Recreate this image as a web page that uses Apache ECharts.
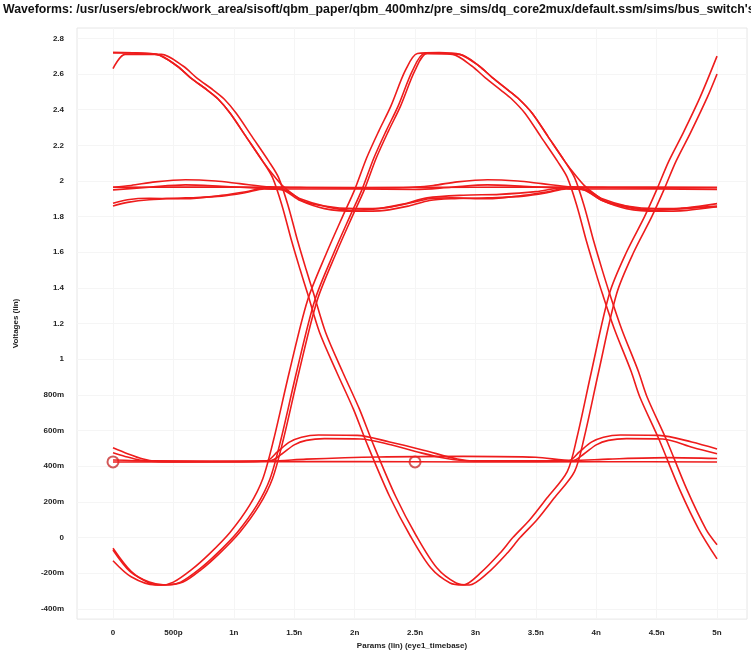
<!DOCTYPE html>
<html>
<head>
<meta charset="utf-8">
<script src="https://cdn.jsdelivr.net/npm/echarts@6/dist/echarts.min.js"></script>
<style>html,body{margin:0;padding:0;background:#fff}#c{width:751px;height:655px}</style>
</head>
<body>
<div id="c"></div>
<script>
// ---------- tick labels ----------
const xTickValues = [0, 0.5, 1, 1.5, 2, 2.5, 3, 3.5, 4, 4.5, 5];
const xTickLabels = ["0", "500p", "1n", "1.5n", "2n", "2.5n", "3n", "3.5n", "4n", "4.5n", "5n"];
const yTickValues = [2.8, 2.6, 2.4, 2.2, 2, 1.8, 1.6, 1.4, 1.2, 1, 0.8, 0.6, 0.4, 0.2, 0, -0.2, -0.4];
const yTickLabels = ["2.8", "2.6", "2.4", "2.2", "2", "1.8", "1.6", "1.4", "1.2", "1", "800m", "600m", "400m", "200m", "0", "-200m", "-400m"];

// ---------- full-swing traces (time in ns, voltage in V) ----------
const tA1 = [0, 0.36, 0.53, 0.64, 0.78, 0.87, 0.97, 1.1, 1.24, 1.32, 1.40, 1.48, 1.55, 1.61, 1.71, 1.85, 1.99, 2.1, 2.29, 2.46, 2.63, 2.79, 2.9, 3.04, 3.2, 3.31, 3.45, 3.59, 3.76, 3.84, 3.96, 4.11, 4.25, 4.4, 4.5, 4.6, 4.72, 4.86, 5.0];
const vA1 = [2.72, 2.71, 2.645, 2.58, 2.51, 2.46, 2.38, 2.25, 2.11, 2.02, 1.86, 1.66, 1.50, 1.37, 1.15, 0.93, 0.72, 0.53, 0.23, 0.01, -0.17, -0.255, -0.266, -0.2, -0.09, 0.0, 0.1, 0.22, 0.37, 0.56, 0.93, 1.37, 1.60, 1.80, 1.95, 2.11, 2.27, 2.47, 2.70];
const tA2 = [0, 0.1, 0.4, 0.58, 0.69, 0.83, 0.92, 1.02, 1.15, 1.29, 1.37, 1.45, 1.53, 1.6, 1.66, 1.76, 1.9, 2.04, 2.15, 2.34, 2.51, 2.68, 2.84, 2.95, 3.1, 3.26, 3.37, 3.51, 3.65, 3.82, 3.9, 4.02, 4.17, 4.31, 4.46, 4.56, 4.66, 4.78, 4.92, 5.0];
const vA2 = [2.63, 2.71, 2.71, 2.645, 2.58, 2.51, 2.46, 2.38, 2.25, 2.11, 2.02, 1.86, 1.66, 1.50, 1.37, 1.15, 0.93, 0.72, 0.53, 0.23, 0.01, -0.17, -0.255, -0.266, -0.2, -0.09, 0.0, 0.1, 0.22, 0.37, 0.56, 0.93, 1.37, 1.60, 1.80, 1.95, 2.11, 2.27, 2.47, 2.60];
const tA3 = [0, 0.36, 0.53, 0.64, 0.78, 0.87, 0.97, 1.1, 1.24, 1.33, 1.4, 1.48, 1.58, 1.72, 1.96, 2.2, 2.4, 2.6, 2.9, 3.2, 3.5, 3.75, 3.9, 4.05, 4.2, 4.45, 4.7, 5.0];
const vA3 = [2.72, 2.71, 2.645, 2.58, 2.51, 2.46, 2.38, 2.25, 2.11, 2.03, 1.975, 1.93, 1.885, 1.862, 1.836, 1.845, 1.87, 1.905, 1.92, 1.925, 1.94, 1.965, 1.95, 1.89, 1.86, 1.835, 1.845, 1.86];
const tB1 = [0, 0.15, 0.3, 0.4, 0.5, 0.65, 0.8, 0.97, 1.13, 1.24, 1.33, 1.46, 1.61, 1.77, 1.9, 2.0, 2.1, 2.2, 2.3, 2.42, 2.52, 2.7, 2.87, 3.03, 3.14, 3.27, 3.36, 3.47, 3.6, 3.74, 3.82, 3.90, 3.98, 4.05, 4.11, 4.21, 4.35, 4.42, 4.58, 4.75, 4.91, 5.0];
const vB1 = [-0.06, -0.19, -0.255, -0.266, -0.25, -0.18, -0.09, 0.03, 0.18, 0.33, 0.55, 0.93, 1.33, 1.6, 1.80, 1.95, 2.13, 2.28, 2.42, 2.62, 2.715, 2.72, 2.71, 2.645, 2.58, 2.51, 2.46, 2.38, 2.25, 2.11, 2.02, 1.86, 1.66, 1.50, 1.37, 1.17, 0.93, 0.79, 0.55, 0.27, 0.045, -0.04];
const tB2 = [0, 0.15, 0.35, 0.46, 0.56, 0.71, 0.86, 1.03, 1.19, 1.3, 1.39, 1.52, 1.67, 1.83, 1.96, 2.06, 2.16, 2.26, 2.36, 2.48, 2.58, 2.81, 2.97, 3.08, 3.21, 3.3, 3.41, 3.54, 3.68, 3.76, 3.84, 3.92, 3.99, 4.05, 4.15, 4.29, 4.36, 4.52, 4.69, 4.85, 5.0];
const vB2 = [-0.13, -0.22, -0.266, -0.265, -0.25, -0.18, -0.09, 0.03, 0.18, 0.33, 0.55, 0.93, 1.33, 1.6, 1.80, 1.95, 2.13, 2.28, 2.42, 2.62, 2.715, 2.71, 2.645, 2.58, 2.51, 2.46, 2.38, 2.25, 2.11, 2.02, 1.86, 1.66, 1.50, 1.37, 1.17, 0.93, 0.79, 0.55, 0.27, 0.045, -0.12];
const tB3 = [0, 0.14, 0.3, 0.43, 0.58, 0.73, 0.88, 1.05, 1.21, 1.32, 1.41, 1.54, 1.69, 1.85, 1.98, 2.08, 2.18, 2.28, 2.38, 2.5, 2.6, 2.87, 3.03, 3.14, 3.27, 3.36, 3.47, 3.6, 3.74, 3.83, 3.9, 3.98, 4.08, 4.22, 4.46, 4.7, 5.0];
const vB3 = [-0.07, -0.19, -0.25, -0.266, -0.25, -0.18, -0.09, 0.03, 0.18, 0.33, 0.55, 0.93, 1.33, 1.6, 1.80, 1.95, 2.13, 2.28, 2.42, 2.62, 2.715, 2.71, 2.645, 2.58, 2.51, 2.46, 2.38, 2.25, 2.11, 2.03, 1.975, 1.93, 1.885, 1.862, 1.836, 1.845, 1.855];

// ---------- ~2 V band ----------
const tF1 = [0, 1, 2, 3, 4, 5];
const vF1 = [1.965, 1.966, 1.963, 1.965, 1.966, 1.964];
const tU1 = [0, 0.15, 0.35, 0.6, 0.85, 1.05, 1.3, 1.6, 2.0, 2.4, 2.65, 2.85, 3.1, 3.35, 3.55, 3.8, 4.1, 4.5, 5.0];
const vU1 = [1.965, 1.975, 1.995, 2.007, 2.0, 1.985, 1.967, 1.962, 1.96, 1.962, 1.975, 1.995, 2.007, 2.0, 1.985, 1.967, 1.962, 1.96, 1.962];
const tU2 = [0, 0.3, 0.6, 0.9, 1.2, 1.4, 2.0, 2.5, 2.8, 3.1, 3.4, 3.7, 3.9, 4.5, 5.0];
const vU2 = [1.95, 1.965, 1.978, 1.97, 1.96, 1.955, 1.955, 1.952, 1.965, 1.978, 1.97, 1.96, 1.955, 1.955, 1.952];
const tL1 = [0, 0.12, 0.3, 0.6, 0.9, 1.1, 1.25, 1.4, 1.55, 1.75, 2.0, 2.25, 2.45, 2.62, 2.8, 3.1, 3.4, 3.6, 3.75, 3.9, 4.05, 4.25, 4.5, 4.75, 5.0];
const vL1 = [1.875, 1.895, 1.903, 1.90, 1.92, 1.94, 1.96, 1.955, 1.90, 1.86, 1.845, 1.85, 1.875, 1.90, 1.905, 1.90, 1.92, 1.94, 1.96, 1.955, 1.90, 1.86, 1.845, 1.85, 1.873];
const tL2 = [0, 0.12, 0.3, 0.6, 0.9, 1.1, 1.25, 1.4, 1.55, 1.75, 2.0, 2.25, 2.45, 2.62, 2.8, 3.1, 3.4, 3.6, 3.75, 3.9, 4.05, 4.25, 4.5, 4.75, 5.0];
const vL2 = [1.86, 1.88, 1.895, 1.905, 1.915, 1.935, 1.955, 1.95, 1.89, 1.845, 1.83, 1.835, 1.86, 1.89, 1.90, 1.905, 1.915, 1.935, 1.955, 1.95, 1.89, 1.845, 1.83, 1.835, 1.855];

// ---------- ~0.43 V band ----------
const tG1 = [0, 1, 2, 3, 4, 5];
const vG1 = [0.424, 0.425, 0.426, 0.424, 0.425, 0.424];
const tG2 = [0, 0.3, 1.3, 1.6, 2.2, 2.9, 3.5, 3.8, 4.1, 4.6, 5.0];
const vG2 = [0.435, 0.43, 0.428, 0.44, 0.452, 0.455, 0.45, 0.432, 0.44, 0.448, 0.443];
const tK1 = [0, 0.12, 0.25, 0.35, 0.7, 1.27, 1.36, 1.46, 1.56, 1.7, 2.02, 2.29, 2.57, 2.85, 3.0, 3.77, 3.86, 3.96, 4.06, 4.2, 4.52, 4.79, 5.0];
const vK1 = [0.503, 0.47, 0.44, 0.428, 0.425, 0.43, 0.48, 0.535, 0.563, 0.575, 0.573, 0.536, 0.49, 0.44, 0.428, 0.43, 0.48, 0.535, 0.563, 0.575, 0.573, 0.536, 0.497];
const tK2 = [0, 0.1, 0.22, 0.35, 0.7, 1.3, 1.4, 1.5, 1.6, 1.75, 2.05, 2.3, 2.55, 2.75, 2.95, 3.8, 3.9, 4.0, 4.1, 4.25, 4.55, 4.8, 5.0];
const vK2 = [0.475, 0.455, 0.435, 0.427, 0.425, 0.43, 0.47, 0.52, 0.545, 0.555, 0.553, 0.52, 0.475, 0.445, 0.43, 0.43, 0.47, 0.52, 0.545, 0.555, 0.553, 0.505, 0.47];

// ---------- markers ----------
const markerT = [0, 2.5];
const markerV = [0.424, 0.424];

const traces = [
  [tA1, vA1], [tA2, vA2], [tA3, vA3], [tB1, vB1], [tB2, vB2], [tB3, vB3],
  [tF1, vF1], [tU1, vU1], [tU2, vU2], [tL1, vL1], [tL2, vL2],
  [tG1, vG1], [tG2, vG2], [tK1, vK1], [tK2, vK2]
];
const RED = '#ee1c1c';
const series = [{
  type: 'scatter', symbol: 'emptyCircle', symbolSize: 11,
  data: markerT.map(function (t, j) { return [t, markerV[j]]; }),
  itemStyle: { color: '#c83030', borderWidth: 1.2 },
  animation: false, silent: true, z: 1
}];
traces.forEach(function (tr, i) {
  series.push({
    type: 'line', name: 'w' + i, showSymbol: false, smooth: 0.3,
    data: tr[0].map(function (t, j) { return [t, tr[1][j]]; }),
    lineStyle: { color: RED, width: 1.6 }, itemStyle: { color: RED },
    animation: false, silent: true, z: 2
  });
});

const lab = { fontFamily: 'Liberation Sans', fontWeight: 'bold', fontSize: 8, color: '#222' };
const chart = echarts.init(document.getElementById('c'), null, { renderer: 'canvas' });
chart.setOption({
  backgroundColor: '#fff',
  animation: false,
  title: {
    text: 'Waveforms: /usr/users/ebrock/work_area/sisoft/qbm_paper/qbm_400mhz/pre_sims/dq_core2mux/default.ssm/sims/bus_switch\'s',
    left: 3, top: 4, padding: 0,
    textStyle: { fontFamily: 'Liberation Sans', fontWeight: 'bold', fontSize: 12.3, color: '#111' }
  },
  grid: { left: 77, right: 4, top: 28, bottom: 32, show: true, borderColor: '#e6e6e6', borderWidth: 1 },
  xAxis: {
    type: 'value', min: -0.298, max: 5.248,
    name: 'Params (lin) (eye1_timebase)', nameLocation: 'middle', nameGap: 22,
    nameTextStyle: lab,
    axisLine: { show: false },
    axisTick: { show: false, customValues: xTickValues },
    axisLabel: Object.assign({
      customValues: xTickValues, margin: 10,
      formatter: function (v) { const k = xTickValues.findIndex(function (x) { return Math.abs(x - v) < 1e-6; }); return k >= 0 ? xTickLabels[k] : ''; }
    }, lab),
    splitLine: { show: true, lineStyle: { color: '#f5f5f5', width: 1 } }
  },
  yAxis: {
    type: 'value', min: -0.4575, max: 2.858,
    name: 'Voltages (lin)', nameLocation: 'middle', nameGap: 57,
    nameTextStyle: lab,
    axisLine: { show: false },
    axisTick: { show: false, customValues: yTickValues },
    axisLabel: Object.assign({
      customValues: yTickValues, margin: 13,
      formatter: function (v) { const k = yTickValues.findIndex(function (x) { return Math.abs(x - v) < 1e-6; }); return k >= 0 ? yTickLabels[k] : ''; }
    }, lab),
    splitLine: { show: true, lineStyle: { color: '#f5f5f5', width: 1 } }
  },
  series: series
});
</script>
</body>
</html>
